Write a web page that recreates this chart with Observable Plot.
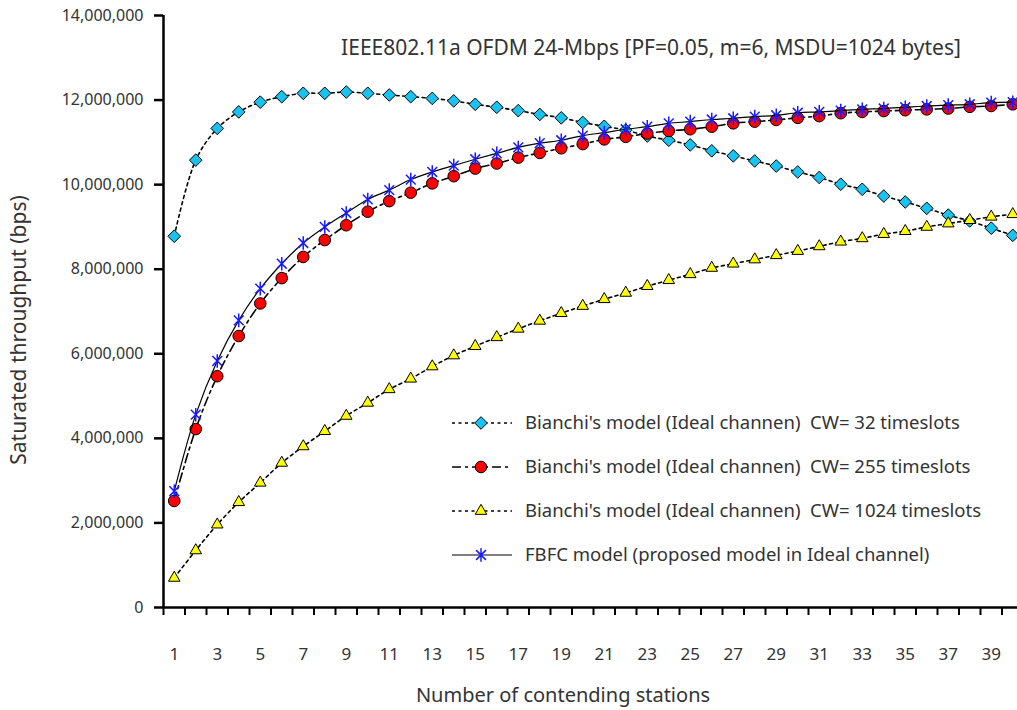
<!DOCTYPE html>
<html><head><meta charset="utf-8">
<script src="https://cdn.jsdelivr.net/npm/d3@7"></script>
<script src="https://cdn.jsdelivr.net/npm/@observablehq/plot@0.6"></script>
<style>
html,body{margin:0;padding:0;background:#fff;overflow:hidden;}
#chart svg{overflow:hidden;display:block;}
</style></head><body><div id="chart"></div>
<script>
// ---- data ----
const stations = [1,2,3,4,5,6,7,8,9,10,11,12,13,14,15,16,17,18,19,20,21,22,23,24,25,26,27,28,29,30,31,32,33,34,35,36,37,38,39,40];
const xTickLabels = [1,3,5,7,9,11,13,15,17,19,21,23,25,27,29,31,33,35,37,39];
const yTicks = [0,2000000,4000000,6000000,8000000,10000000,12000000,14000000];
const cw32 = [8.78,10.58,11.33,11.72,11.95,12.08,12.16,12.16,12.19,12.16,12.12,12.08,12.04,11.98,11.90,11.83,11.75,11.66,11.58,11.47,11.38,11.29,11.15,11.05,10.94,10.80,10.68,10.56,10.44,10.30,10.17,10.01,9.89,9.73,9.59,9.44,9.28,9.14,8.97,8.80];
const cw255 = [2.52,4.22,5.47,6.42,7.19,7.79,8.29,8.69,9.04,9.36,9.61,9.81,10.03,10.20,10.38,10.50,10.64,10.75,10.86,10.96,11.07,11.13,11.21,11.27,11.31,11.37,11.45,11.49,11.53,11.58,11.62,11.69,11.72,11.74,11.76,11.78,11.80,11.84,11.86,11.90];
const cw1024 = [0.70,1.35,1.96,2.49,2.95,3.42,3.81,4.17,4.53,4.84,5.16,5.41,5.70,5.96,6.18,6.39,6.59,6.78,6.96,7.13,7.29,7.44,7.60,7.74,7.88,8.03,8.13,8.23,8.33,8.43,8.54,8.65,8.73,8.83,8.90,9.00,9.08,9.16,9.24,9.30];
const fbfc = [2.75,4.56,5.83,6.79,7.54,8.13,8.62,9.00,9.33,9.65,9.87,10.12,10.30,10.45,10.60,10.74,10.88,10.98,11.05,11.16,11.23,11.31,11.37,11.45,11.49,11.54,11.57,11.61,11.64,11.70,11.72,11.75,11.78,11.80,11.83,11.86,11.88,11.90,11.94,11.95];
const seriesNames = [
  "Bianchi's model (Ideal channen)  CW= 32 timeslots",
  "Bianchi's model (Ideal channen)  CW= 255 timeslots",
  "Bianchi's model (Ideal channen)  CW= 1024 timeslots",
  "FBFC model (proposed model in Ideal channel)"
];
const titleText = "IEEE802.11a OFDM 24-Mbps [PF=0.05, m=6, MSDU=1024 bytes]";
const xTitle = "Number of contending stations";
const yTitle = "Saturated throughput (bps)";

// ---- styles ----
const FONT = "'Noto Sans', 'DejaVu Sans', sans-serif";
const TXT = "#333";
const starSymbol = {draw(ctx, size){
  const r = Math.sqrt(size/Math.PI), d = r*0.72;
  ctx.moveTo(0,-r); ctx.lineTo(0,r);
  ctx.moveTo(-d,-d); ctx.lineTo(d,d);
  ctx.moveTo(-d,d); ctx.lineTo(d,-d);
}};
const styles = [
  {values: cw32, dash:"3,3.5", lw:1.6, symbol:"diamond2", d3sym:d3.symbolDiamond2, r:5.7, fill:"#19c3f0", stroke:"black", sw:1},
  {values: cw255, dash:"9,4,3,4", lw:1.6, symbol:"circle", d3sym:d3.symbolCircle, r:5.8, fill:"#ff0000", stroke:"black", sw:1},
  {values: cw1024, dash:"3,3.5", lw:1.6, symbol:"triangle", d3sym:d3.symbolTriangle, r:4.3, fill:"#ffff00", stroke:"black", sw:1},
  {values: fbfc, dash:null, lw:1.2, symbol:starSymbol, d3sym:starSymbol, r:6.8, fill:"none", stroke:"#1a1aff", sw:1.5}
];

const marks = [
  Plot.ruleX([0.5], {y1:0, y2:14000000, stroke:"black", strokeWidth:2.5}),
  Plot.ruleY([0], {x1:0.5, x2:40.5, stroke:"black", strokeWidth:2.5}),
  Plot.axisY({ticks:yTicks, tickSize:9, tickPadding:11, tickFormat:d3.format(","), fontSize:16, stroke:"black", strokeWidth:2.5, fill:TXT, label:null}),
  Plot.axisX({ticks:stations.map(s=>s-0.5).concat([40.5]), tickSize:8, tickFormat:()=>"", stroke:"black", strokeWidth:2, label:null}),
  Plot.axisX({ticks:xTickLabels, tickSize:0, tickPadding:40, fontSize:17, fill:TXT, label:null})
];
styles.forEach(s=>{
  const rows = stations.map((st,i)=>({station:st, value:s.values[i]*1e6}));
  marks.push(Plot.line(rows, {x:"station", y:"value", stroke:"black", strokeWidth:s.lw, strokeDasharray:s.dash, curve:"catmull-rom"}));
  marks.push(Plot.dot(rows, {x:"station", y:"value", symbol:s.symbol, r:s.r, fill:s.fill, stroke:s.stroke, strokeWidth:s.sw}));
});

const chart = Plot.plot({
  width:1017, height:710,
  marginLeft:163, marginRight:0, marginTop:15, marginBottom:103,
  style:{fontFamily:FONT, background:"white", overflow:"hidden"},
  x:{domain:[0.5,40.5], range:[163,1023]},
  y:{domain:[0,14000000]},
  marks
});
document.getElementById("chart").appendChild(chart);

const svg = d3.select(chart);
const g = svg.append("g").attr("font-family", FONT).attr("fill",TXT);
g.append("text").attr("x",651).attr("y",55).attr("text-anchor","middle").attr("font-size",21).text(titleText);
g.append("text").attr("x",563).attr("y",702).attr("text-anchor","middle").attr("font-size",20).text(xTitle);
g.append("text").attr("transform","translate(26,330) rotate(-90)").attr("text-anchor","middle").attr("font-size",21).text(yTitle);

const legendY = [423,467,511,555];
styles.forEach((s,i)=>{
  const y = legendY[i];
  const lg = svg.append("g");
  lg.append("line").attr("x1",452).attr("x2",512).attr("y1",y).attr("y2",y)
    .attr("stroke","black").attr("stroke-width",s.lw).attr("stroke-dasharray",s.dash);
  lg.append("path").attr("transform",`translate(481,${y})`)
    .attr("d", d3.symbol(s.d3sym, Math.PI*s.r*s.r)())
    .attr("fill", s.fill).attr("stroke", s.stroke).attr("stroke-width", s.sw);
  lg.append("text").attr("x",525).attr("y",y).attr("dy","0.35em").attr("text-anchor","start")
    .attr("font-family",FONT).attr("font-size",18.5).attr("fill",TXT)
    .style("white-space","pre").text(seriesNames[i]);
});
</script>
</body></html>
